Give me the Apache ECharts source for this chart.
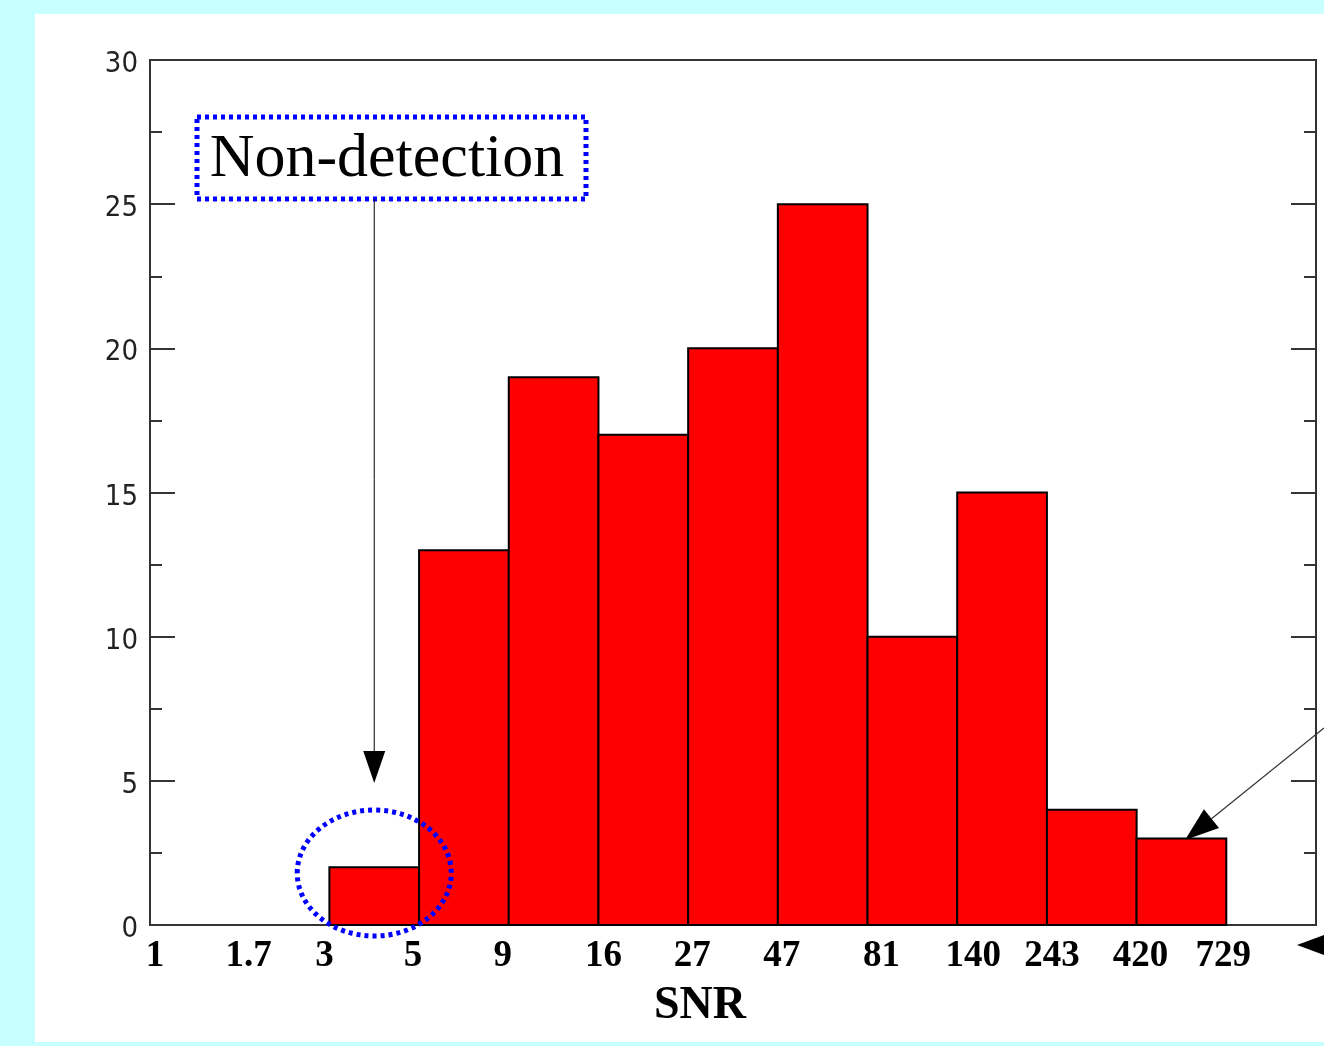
<!DOCTYPE html>
<html style="height: 100%">
<head>
    <meta charset="utf-8">
    <title>SNR histogram</title>
    <script type="text/javascript" src="https://cdn.jsdelivr.net/npm/echarts@6/dist/echarts.min.js"></script>
</head>
<body style="height: 100%; margin: 0; background: #c8ffff">
    <div id="container" style="width: 1324px; height: 1046px"></div>
    <script type="text/javascript">
        // bin edges (log-spaced SNR), one label per edge
        var edgeLabels = ['1', '1.7', '3', '5', '9', '16', '27', '47', '81', '140', '243', '420', '729'];
        // counts per bin, bin i spans edge i .. edge i+1
        var counts = [0, 0, 2, 13, 19, 17, 20, 25, 10, 15, 4, 3];
        var yTicks = [0, 5, 10, 15, 20, 25, 30];

        var barData = [];
        for (var i = 0; i < counts.length; i++) {
            if (counts[i] > 0) barData.push([i, i + 1, counts[i]]);
        }

        // the original labels were placed by hand, slightly off the edges (px)
        var labelShift = [5, 9, -5, -6, -6, 5, 4, 4, 14, 16, 5, 4, -3];
        var rich = {};
        labelShift.forEach(function (d, k) {
            rich['l' + k] = {
                fontFamily: 'Liberation Serif',
                fontWeight: 'bold',
                fontSize: 37,
                color: '#000',
                padding: d > 0 ? [0, 0, 0, 2 * d] : [0, -2 * d, 0, 0]
            };
        });

        var dom = document.getElementById('container');
        var myChart = echarts.init(dom);

        var option = {
            backgroundColor: 'transparent',
            animation: false,
            grid: {
                left: 150,
                right: 8,
                top: 60,
                bottom: 121,
                show: true,
                backgroundColor: '#fff',
                borderColor: '#333',
                borderWidth: 2
            },
            xAxis: {
                type: 'value',
                min: 0,
                max: 13,
                interval: 1,
                name: 'SNR',
                nameLocation: 'middle',
                nameGap: 58,
                nameTextStyle: {
                    fontFamily: 'Liberation Serif',
                    fontWeight: 'bold',
                    fontSize: 46,
                    color: '#000',
                    padding: [0, 66, 0, 0]
                },
                splitLine: { show: false },
                axisTick: { show: false },
                axisLine: { lineStyle: { color: '#333', width: 2 } },
                axisLabel: {
                    margin: 13,
                    rich: rich,
                    formatter: function (v) {
                        return edgeLabels[v] !== undefined ? '{l' + v + '|' + edgeLabels[v] + '}' : '';
                    }
                }
            },
            yAxis: [{
                type: 'value',
                min: 0,
                max: 30,
                interval: 5,
                splitLine: { show: false },
                axisLine: { show: true, lineStyle: { color: '#333', width: 2 } },
                axisTick: { inside: true, length: 25, lineStyle: { color: '#333', width: 2 } },
                minorTick: { show: true, splitNumber: 2, length: 12, lineStyle: { color: '#333', width: 2 } },
                axisLabel: {
                    margin: 12,
                    rich: {
                        v: {
                            fontFamily: '"DejaVu Sans Condensed", "DejaVu Sans", sans-serif',
                            fontSize: 29,
                            color: '#222',
                            padding: [9, 0, 0, 0]
                        }
                    },
                    formatter: function (v) {
                        return yTicks.indexOf(v) >= 0 ? '{v|' + v + '}' : '';
                    }
                }
            }, {
                type: 'value',
                position: 'right',
                min: 0,
                max: 30,
                interval: 5,
                splitLine: { show: false },
                axisLine: { show: true, lineStyle: { color: '#333', width: 2 } },
                axisTick: { inside: true, length: 25, lineStyle: { color: '#333', width: 2 } },
                minorTick: { show: true, splitNumber: 2, length: 12, lineStyle: { color: '#333', width: 2 } },
                axisLabel: { show: false }
            }],
            series: [{
                type: 'custom',
                data: barData,
                renderItem: function (params, api) {
                    var p0 = api.coord([api.value(0), api.value(2)]);
                    var p1 = api.coord([api.value(1), 0]);
                    return {
                        type: 'rect',
                        shape: { x: p0[0], y: p0[1], width: p1[0] - p0[0], height: p1[1] - p0[1] },
                        style: { fill: '#ff0000', stroke: '#000', lineWidth: 2 }
                    };
                }
            }]
        };
        myChart.setOption(option, true);

        // annotations
        var c = myChart.convertToPixel({ xAxisIndex: 0, yAxisIndex: 0 }, [2.5, 2]);
        var dot = { stroke: '#0000ff', lineWidth: 5, lineDash: [4, 4], fill: null };

        // arrow pointing at the last bin, coming in from the right edge
        var tip = [1185, 840], from = [1324, 728];
        var dx = from[0] - tip[0], dy = from[1] - tip[1];
        var len = Math.sqrt(dx * dx + dy * dy);
        var ux = dx / len, uy = dy / len;
        var bx = tip[0] + ux * 34, by = tip[1] + uy * 34;
        var hw = 12;

        myChart.setOption({
            graphic: [
                // white panel behind the chart
                { type: 'rect', z: -10, silent: true, shape: { x: 35, y: 14, width: 1289, height: 1028 }, style: { fill: '#fff' } },
                { type: 'rect', z: 100, shape: { x: 197, y: 117, width: 389, height: 82 }, style: dot },
                { type: 'text', z: 100, x: 387, y: 160, style: { text: 'Non-detection', font: '62px "Liberation Serif"', fill: '#000', align: 'center', verticalAlign: 'middle' } },
                { type: 'line', z: 100, shape: { x1: c[0], y1: 199, x2: c[0], y2: 760 }, style: { stroke: '#000', lineWidth: 1 } },
                { type: 'polygon', z: 100, shape: { points: [[c[0] - 11, 751], [c[0] + 11, 751], [c[0], 783]] }, style: { fill: '#000' } },
                { type: 'ellipse', z: 100, shape: { cx: c[0], cy: 873, rx: 77, ry: 63 }, style: dot },
                { type: 'line', z: 100, shape: { x1: from[0], y1: from[1], x2: bx, y2: by }, style: { stroke: '#333', lineWidth: 1.2 } },
                { type: 'polygon', z: 100, shape: { points: [tip, [bx - uy * hw, by + ux * hw], [bx + uy * hw, by - ux * hw]] }, style: { fill: '#000' } },
                { type: 'polygon', z: 100, shape: { points: [[1297, 945], [1324, 935], [1324, 955]] }, style: { fill: '#000' } }
            ]
        });
    </script>
</body>
</html>
